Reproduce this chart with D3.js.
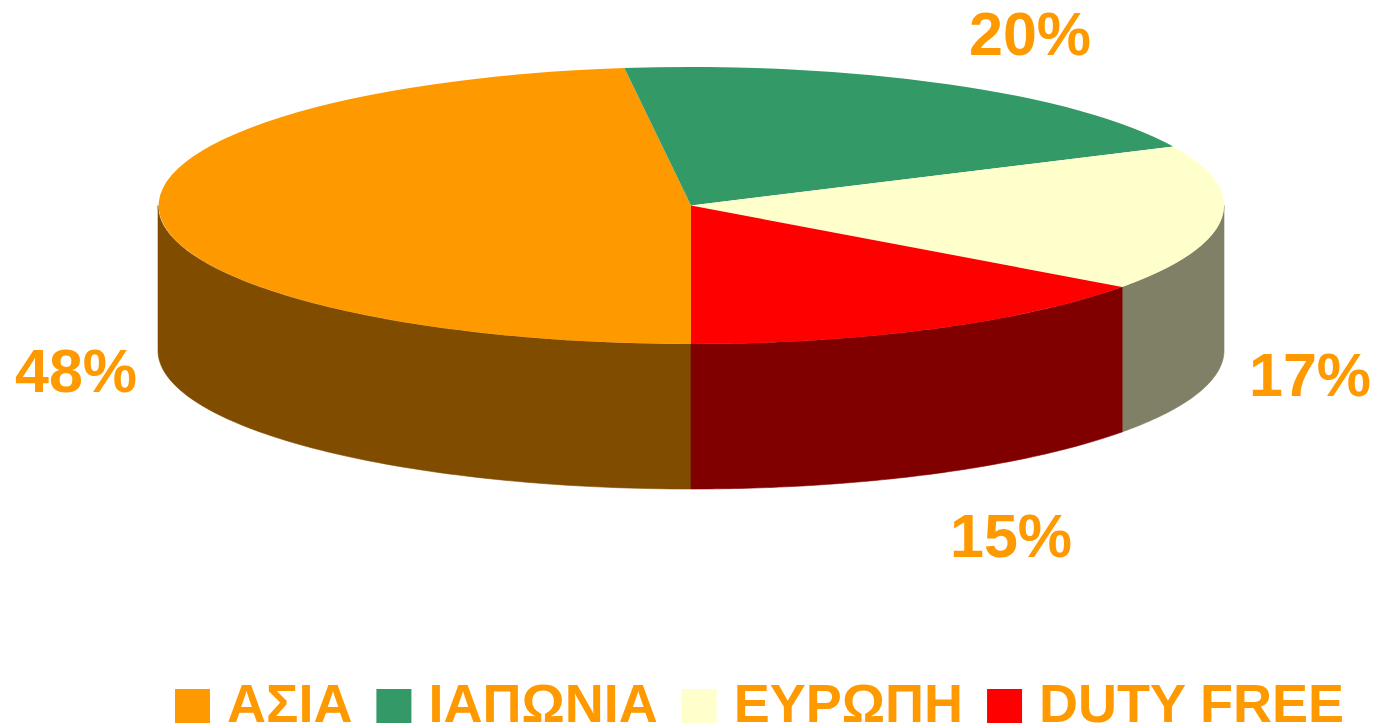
<!DOCTYPE html>
<html>
<head>
<meta charset="utf-8">
<script src="https://cdn.jsdelivr.net/npm/d3@7"></script>
<style>
  body { margin: 0; background: #fff; }
  text { font-family: "Liberation Sans", Arial, sans-serif; font-weight: bold; }
</style>
</head>
<body>
<div id="chart"></div>
<script>
// data
var categories = ["ΑΣΙΑ", "ΙΑΠΩΝΙΑ", "ΕΥΡΩΠΗ", "DUTY FREE"];
var values = [48, 20, 17, 15];
var labels = ["48%", "20%", "17%", "15%"];
var topColors = ["#FF9900", "#339966", "#FFFFCC", "#FF0000"];
var sideColors = ["#804C00", "#1A4D33", "#808066", "#800000"];

var W = 1378, H = 727;
var cx = 691, cy = 205.5, rx = 533, ry = 138.5, depth = 145;

var svg = d3.select("#chart").append("svg")
    .attr("width", W)
    .attr("height", H);

// pie starts at the bottom, goes clockwise
var pie = d3.pie().sort(null)
    .startAngle(Math.PI)
    .endAngle(3 * Math.PI);
var slices = pie(values);

function px(a) { return cx + rx * Math.sin(a); }
function py(a, dz) { return cy - ry * Math.cos(a) + (dz || 0); }

// side wall, only the front half (cos < 0) is visible
function sidePath(d) {
    var a0 = d.startAngle, a1 = d.endAngle;
    var pts = [];
    for (var k = -1; k <= 2; k++) {
        var lo = Math.max(a0, Math.PI / 2 + 2 * k * Math.PI);
        var hi = Math.min(a1, 3 * Math.PI / 2 + 2 * k * Math.PI);
        if (hi > lo) pts.push([lo, hi]);
    }
    var line = d3.line();
    return pts.map(function(r) {
        var n = 80, top = [], bot = [];
        for (var i = 0; i <= n; i++) {
            var a = r[0] + (r[1] - r[0]) * i / n;
            top.push([px(a), py(a)]);
            bot.push([px(a), py(a, depth)]);
        }
        return line(top.concat(bot.reverse())) + "Z";
    }).join("");
}

svg.append("g").selectAll("path")
    .data(slices)
    .enter().append("path")
    .attr("d", sidePath)
    .style("fill", function(d, i) { return sideColors[i]; })
    .style("stroke", function(d, i) { return sideColors[i]; })
    .style("stroke-width", 0.6);

// top faces
var arc = d3.arc().innerRadius(0).outerRadius(1);
svg.append("g")
    .attr("transform", "translate(" + cx + "," + cy + ") scale(" + rx + "," + ry + ")")
    .selectAll("path")
    .data(slices)
    .enter().append("path")
    .attr("d", arc)
    .style("fill", function(d, i) { return topColors[i]; });

// percentage labels
var labelPos = [[76, 392], [1030, 55], [1310, 396], [1011, 557]];
svg.append("g").selectAll("text")
    .data(labels)
    .enter().append("text")
    .attr("x", function(d, i) { return labelPos[i][0]; })
    .attr("y", function(d, i) { return labelPos[i][1]; })
    .attr("text-anchor", "middle")
    .style("font-size", "61px")
    .style("fill", "#FF9900")
    .text(function(d) { return d; });

// legend
var legend = svg.append("g");
var lx = 175, sq = 35, ly = 689;
categories.forEach(function(c, i) {
    legend.append("rect")
        .attr("x", lx).attr("y", ly)
        .attr("width", sq).attr("height", 34)
        .style("fill", topColors[i]);
    var t = legend.append("text")
        .attr("x", lx + sq + 17)
        .attr("y", 722)
        .style("font-size", "54px")
        .style("fill", "#FF9900")
        .text(c);
    lx = lx + sq + 17 + t.node().getComputedTextLength() + 24;
});
</script>
</body>
</html>
